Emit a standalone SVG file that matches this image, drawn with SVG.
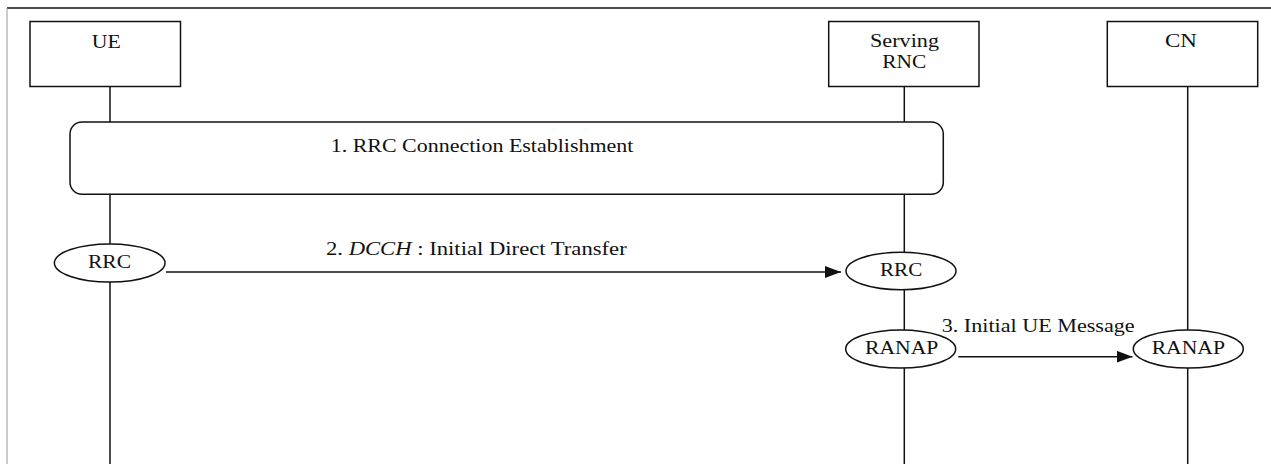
<svg xmlns="http://www.w3.org/2000/svg" width="1271" height="464" viewBox="0 0 1271 464">
<style>
  text { font-family: "Liberation Serif", "Times New Roman", serif; font-size: 19px; fill: #111; }
  .box { fill: #fff; stroke: #111; stroke-width: 1.5; }
  .life { stroke: #111; stroke-width: 1.5; fill: none; }
  .msg { stroke: #111; stroke-width: 1.5; fill: none; marker-end: url(#arrow); }
  .ell { fill: #fff; stroke: #111; stroke-width: 1.5; }
</style>
<defs>
  <marker id="arrow" markerUnits="userSpaceOnUse" markerWidth="17" markerHeight="13" refX="16" refY="6" orient="auto">
    <path d="M0,0 L16,6 L0,12 Z" fill="#111"/>
  </marker>
</defs>
<rect x="0" y="0" width="1271" height="464" fill="#fff"/>
<g id="frame">
  <line x1="7" y1="8" x2="1271" y2="8" stroke="#111" stroke-width="1.5"/>
  <line x1="7" y1="8" x2="7" y2="464" stroke="#999" stroke-width="1"/>
</g>
<g id="lifelines">
  <line class="life" x1="110" y1="86.5" x2="110" y2="464"/>
  <line class="life" x1="904.3" y1="86.5" x2="904.3" y2="464"/>
  <line class="life" x1="1187.7" y1="86.5" x2="1187.7" y2="464"/>
</g>
<g id="node-ue">
  <rect class="box" x="30" y="21.5" width="150.5" height="65"/>
  <text x="91.7" y="47.7" textLength="29" lengthAdjust="spacingAndGlyphs">UE</text>
</g>
<g id="node-rnc">
  <rect class="box" x="828.7" y="21.5" width="150.3" height="65"/>
  <text x="870" y="46.7" textLength="69" lengthAdjust="spacingAndGlyphs">Serving</text>
  <text x="882.3" y="68.3" textLength="44" lengthAdjust="spacingAndGlyphs">RNC</text>
</g>
<g id="node-cn">
  <rect class="box" x="1107.3" y="21.5" width="150.4" height="65"/>
  <text x="1165" y="47" textLength="32" lengthAdjust="spacingAndGlyphs">CN</text>
</g>
<g id="step1">
  <rect class="box" x="70" y="122" width="873.3" height="72.3" rx="12" ry="12"/>
  <text x="330.7" y="151.7" textLength="302.7" lengthAdjust="spacingAndGlyphs">1. RRC Connection Establishment</text>
</g>
<g id="connectors">
  <line class="msg" x1="166" y1="272" x2="841" y2="272"/>
  <line class="msg" x1="958.3" y1="356.7" x2="1132.5" y2="356.7"/>
  <text x="326" y="255" textLength="300.7" lengthAdjust="spacingAndGlyphs">2. <tspan font-style="italic">DCCH</tspan> : Initial Direct Transfer</text>
  <text x="941.7" y="331.7" textLength="193" lengthAdjust="spacingAndGlyphs">3. Initial UE Message</text>
</g>
<g id="ue-rrc">
  <ellipse class="ell" cx="109.7" cy="263" rx="55.3" ry="19"/>
  <text x="88" y="268.3" textLength="43" lengthAdjust="spacingAndGlyphs">RRC</text>
</g>
<g id="rnc-rrc">
  <ellipse class="ell" cx="901" cy="271" rx="55" ry="18.8"/>
  <text x="880" y="276.2" textLength="42.3" lengthAdjust="spacingAndGlyphs">RRC</text>
</g>
<g id="rnc-ranap">
  <ellipse class="ell" cx="900.7" cy="349" rx="55" ry="19"/>
  <text x="865" y="354" textLength="73.3" lengthAdjust="spacingAndGlyphs">RANAP</text>
</g>
<g id="cn-ranap">
  <ellipse class="ell" cx="1188.3" cy="349" rx="55" ry="19"/>
  <text x="1151.7" y="354" textLength="73.3" lengthAdjust="spacingAndGlyphs">RANAP</text>
</g>
</svg>
